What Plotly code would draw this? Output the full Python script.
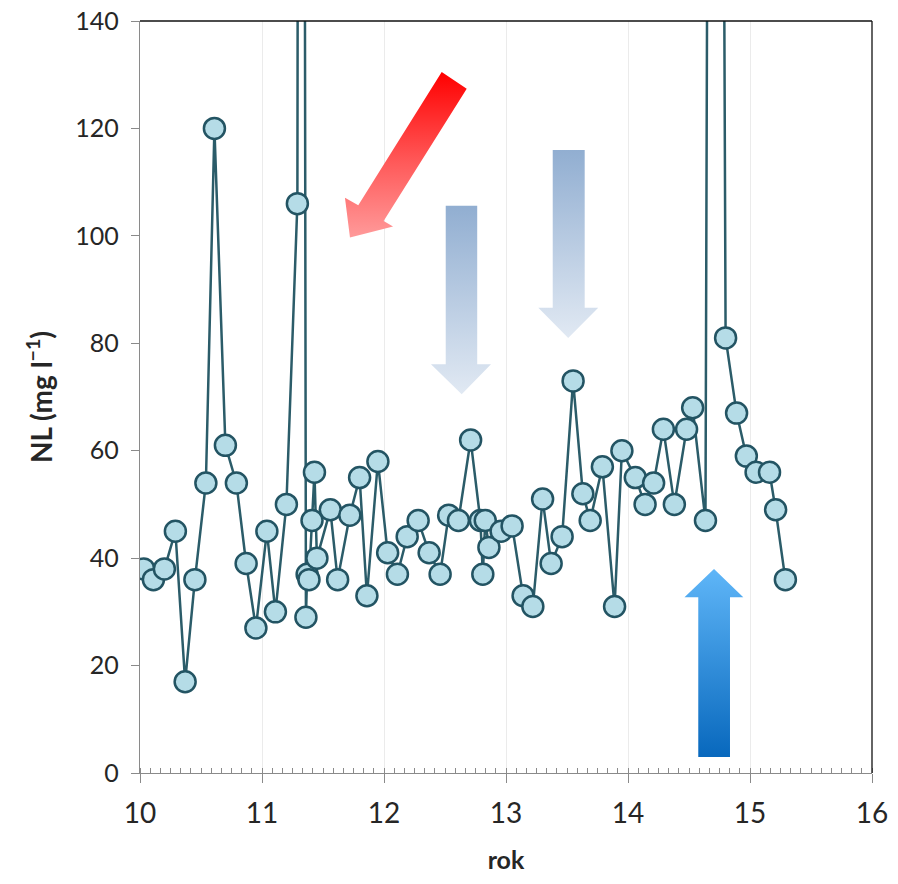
import plotly.graph_objects as go

# ---- data ----
rok = [10.03, 10.11, 10.20, 10.29, 10.37, 10.45, 10.54, 10.61, 10.70, 10.79,
       10.87, 10.95, 11.04, 11.11, 11.20, 11.29, 11.32, 11.36, 11.37, 11.385,
       11.41, 11.43, 11.45, 11.56, 11.62, 11.72, 11.80, 11.86, 11.95, 12.03,
       12.11, 12.19, 12.28, 12.37, 12.46, 12.53, 12.61, 12.71, 12.79, 12.81,
       12.83, 12.86, 12.96, 13.05, 13.14, 13.22, 13.30, 13.37, 13.46, 13.55,
       13.63, 13.69, 13.79, 13.89, 13.95, 14.06, 14.14, 14.21, 14.29, 14.38,
       14.48, 14.53, 14.635, 14.71, 14.80, 14.89, 14.97, 15.05, 15.16, 15.21,
       15.29]
nl = [38, 36, 38, 45, 17, 36, 54, 120, 61, 54,
      39, 27, 45, 30, 50, 106, 600, 29, 37, 36,
      47, 56, 40, 49, 36, 48, 55, 33, 58, 41,
      37, 44, 47, 41, 37, 48, 47, 62, 47, 37,
      47, 42, 45, 46, 33, 31, 51, 39, 44, 73,
      52, 47, 57, 31, 60, 55, 50, 54, 64, 50,
      64, 68, 47, 600, 81, 67, 59, 56, 56, 49,
      36]

x_ticks = [10, 11, 12, 13, 14, 15, 16]
y_ticks = [0, 20, 40, 60, 80, 100, 120, 140]

# ---- decorative arrows (data units) ----
red_arrow_x = [12.473, 12.678, 11.997, 12.074, 11.721, 11.680, 11.789, 12.473]
red_arrow_y = [130.5, 127.4, 102.75, 101.74, 99.7, 107.1, 105.7, 130.5]

grey1_x = [12.506, 12.764, 12.764, 12.877, 12.637, 12.385, 12.506, 12.506]
grey1_y = [105.6, 105.6, 76.1, 76.1, 70.5, 76.1, 76.1, 105.6]

grey2_x = [13.383, 13.645, 13.645, 13.756, 13.51, 13.265, 13.383, 13.383]
grey2_y = [116.0, 116.0, 86.6, 86.6, 81.0, 86.6, 86.6, 116.0]

blue_x = [14.576, 14.836, 14.836, 14.945, 14.705, 14.463, 14.576, 14.576]
blue_y = [3.0, 3.0, 32.7, 32.7, 38.0, 32.7, 32.7, 3.0]

FONT = "Lato, 'Open Sans', sans-serif"
AXIS_GREY = "#8a8a8a"

fig = go.Figure()

def arrow(xs, ys, scale):
    fig.add_trace(go.Scatter(
        x=xs, y=ys, mode="lines", fill="toself",
        line=dict(width=0, color="rgba(0,0,0,0)"),
        fillgradient=dict(type="vertical", colorscale=scale),
        hoverinfo="skip", showlegend=False))

arrow(red_arrow_x, red_arrow_y, [[0, "#ff9a9a"], [0.45, "#ff5a5a"], [1, "#ff0000"]])
arrow(grey1_x, grey1_y, [[0, "#e1e9f3"], [1, "#91aed1"]])
arrow(grey2_x, grey2_y, [[0, "#e1e9f3"], [1, "#91aed1"]])
arrow(blue_x, blue_y, [[0, "#0868bd"], [1, "#5fb6f8"]])

fig.add_trace(go.Scatter(
    x=rok, y=nl, mode="lines+markers",
    line=dict(color="#2b5c69", width=2.5),
    marker=dict(symbol="circle", size=21, color="#b5dce7",
                line=dict(color="#235463", width=2.5)),
    cliponaxis=True, showlegend=False))

fig.update_xaxes(
    range=[10, 16], tickvals=x_ticks, ticktext=[str(v) for v in x_ticks],
    automargin=False, ticklabeloverflow="allow",
    showgrid=True, gridcolor="#ebebeb", gridwidth=1,
    showline=True, linecolor=AXIS_GREY, linewidth=1.3,
    ticks="outside", ticklen=9, tickcolor=AXIS_GREY, tickwidth=1.3,
    minor=dict(dtick=1/12, tick0=10, ticks="inside", ticklen=5,
               tickcolor=AXIS_GREY, tickwidth=1, showgrid=False),
    zeroline=False,
    tickfont=dict(family=FONT, size=28, color="#262626"),
    ticklabelstandoff=6,
    title=dict(text="<b>rok</b>", font=dict(family=FONT, size=25, color="#262626"),
               standoff=23))

fig.update_yaxes(
    range=[0, 140], tickvals=y_ticks, ticktext=[str(v) for v in y_ticks],
    automargin=False, ticklabeloverflow="allow",
    showgrid=False, showline=True, linecolor=AXIS_GREY, linewidth=1.3,
    ticks="outside", ticklen=8, tickcolor=AXIS_GREY, tickwidth=1.3,
    zeroline=False,
    tickfont=dict(family=FONT, size=25, color="#262626"),
    ticklabelstandoff=7,
    title=dict(text="<b>NL (mg l<sup>−1</sup>)</b>",
               font=dict(family=FONT, size=28, color="#262626"), standoff=14))

# black frame on top and right
fig.add_shape(type="line", xref="paper", yref="paper", x0=0, x1=1, y0=1, y1=1,
              line=dict(color="#111111", width=1.3))
fig.add_shape(type="line", xref="paper", yref="paper", x0=1, x1=1, y0=0, y1=1,
              line=dict(color="#111111", width=1.3))

# the page body adds an 8 px offset; margins compensate for it
fig.update_layout(
    width=898, height=884,
    margin=dict(l=132, r=34, t=13, b=119),
    paper_bgcolor="white", plot_bgcolor="white",
    font=dict(family=FONT))

fig.write_html("out.html")
